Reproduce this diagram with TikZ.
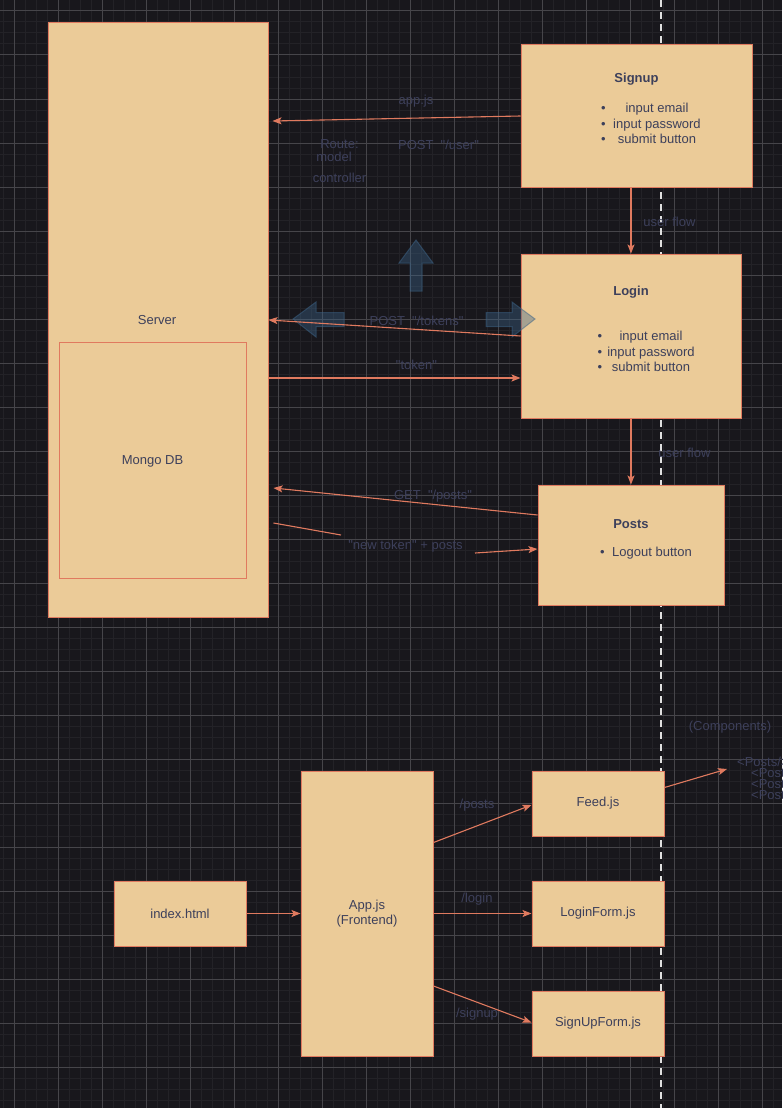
\documentclass[tikz,border=0pt]{standalone}
\usepackage{fontspec}
\setmainfont{Liberation Sans}[Ligatures=TeXOff]
\usepackage{tikz}
\usepackage{xcolor}
\usetikzlibrary{arrows.meta,calc,positioning}
\definecolor{canvas}{HTML}{18171C}
\definecolor{gridminor}{HTML}{232227}
\definecolor{gridmajor}{HTML}{46454A}
\definecolor{sand}{HTML}{EBCB98}
\definecolor{coral}{HTML}{E07A5F}
\definecolor{slate}{HTML}{3D405B}
\definecolor{ghost}{HTML}{3C6488}
\newcommand\sketchfont{\fontsize{13}{15.5}\selectfont}
\tikzset{
    sketch-box/.style = {draw=coral, fill=sand, line width=1pt, rectangle, inner sep=0pt, text=slate, font=\sketchfont},
    sketch-title/.style = {text=slate, font=\sketchfont\bfseries, inner sep=0pt, yshift=-1.5pt},
    sketch-list/.style = {text=slate, font=\sketchfont, inner sep=0pt, anchor=west, yshift=-1.5pt},
    dim-text/.style = {text=slate, font=\sketchfont, inner sep=0pt, yshift=-1.5pt},
    flow-line/.style = {draw=coral, line width=1.1pt},
    flow-arrow/.style = {flow-line, -{Stealth[length=9pt, width=7pt, inset=2pt]}},
    ghost-arrow/.style = {draw=ghost, fill=ghost, fill opacity=0.4, draw opacity=0.5, line width=1pt},
}

\begin{document}
\begin{tikzpicture}[x=1pt, y=-1pt]
\useasboundingbox (0,0) rectangle (782,1108);
\fill[canvas] (0,0) rectangle (782,1108);
\foreach \x in {3,14,...,782} \draw[gridminor, line width=1pt] (\x,0) -- (\x,1108);
\foreach \y in {0,11,...,1108} \draw[gridminor, line width=1pt] (0,\y) -- (782,\y);
\foreach \x in {14,58,...,782} \draw[gridmajor, line width=1pt] (\x,0) -- (\x,1108);
\foreach \y in {11,55,...,1108} \draw[gridmajor, line width=1pt] (0,\y) -- (782,\y);
\draw[white!88!black, line width=2pt, dash pattern=on 7pt off 5pt] (661,0) -- (661,1108);

\node[sketch-box, minimum width=220pt, minimum height=594pt] (server) at (158,320) {};
\node[dim-text] (server-label) at (157,319) {Server};
\node[sketch-box, fill=none, minimum width=187pt, minimum height=236pt] (mongo) at (152.5,460) {};
\node[dim-text] (mongo-label) at (mongo.center) {Mongo DB};

\node[sketch-box, minimum width=231pt, minimum height=142pt] (signup) at (636.5,116) {};
\node[sketch-title, below=27pt] (signup-title) at (signup.north) {Signup};
\node[sketch-list] (signup-items) at (601,123.5) {\begin{tabular}{@{}c@{\hspace{7.5pt}}c@{}}
    \textbullet & input email\\
    \textbullet & input password\\
    \textbullet & submit button
\end{tabular}};

\node[sketch-box, minimum width=220pt, minimum height=164pt] (login) at (631,336) {};
\node[sketch-title, below=31pt] (login-title) at (login.north) {Login};
\node[sketch-list] (login-items) at (597.5,351.5) {\begin{tabular}{@{}c@{\hspace{5pt}}c@{}}
    \textbullet & input email\\
    \textbullet & input password\\
    \textbullet & submit button
\end{tabular}};

\node[sketch-box, minimum width=186pt, minimum height=120pt] (posts) at (631,545) {};
\node[sketch-title, below=33pt] (posts-title) at (posts.north) {Posts};
\node[sketch-list] (posts-items) at (600,552) {\begin{tabular}{@{}c@{\hspace{7.5pt}}c@{}}
    \textbullet & Logout button
\end{tabular}};

\node[sketch-box, minimum width=132pt, minimum height=65pt] (index) at (180,913.5) {index.html};
\node[sketch-box, minimum width=132pt, minimum height=285pt, align=center] (app) at (367,913.5) {App.js\\(Frontend)};
\node[sketch-box, minimum width=132pt, minimum height=65pt] (feed) at (598,803.5) {Feed.js};
\node[sketch-box, minimum width=132pt, minimum height=65pt] (loginform) at (598,913.5) {LoginForm.js};
\node[sketch-box, minimum width=132pt, minimum height=65pt] (signupform) at (598,1023.5) {SignUpForm.js};

\filldraw[ghost-arrow] (416,240) -- (433,263) -- (422,263) -- (422,291) -- (410,291) -- (410,263) -- (399,263) -- cycle;
\filldraw[ghost-arrow] (293,319) -- (316,302) -- (316,312.5) -- (344,312.5) -- (344,326.5) -- (316,326.5) -- (316,337) -- cycle;
\filldraw[ghost-arrow] (535,319) -- (512,302) -- (512,312.5) -- (486,312.5) -- (486,326.5) -- (512,326.5) -- (512,337) -- cycle;

\node[dim-text] (lbl-appjs) at (416,100) {app.js};
\node[dim-text] (lbl-route) at (339.5,143) {Route:};
\node[dim-text] (lbl-model) at (334,155) {model};
\node[dim-text] (lbl-controller) at (339.5,176.5) {controller};
\node[dim-text] (lbl-user) at (438.5,143) {POST\ \ "/user"};
\node[dim-text] (lbl-flow1) at (669.5,220.5) {user flow};
\node[dim-text] (lbl-tokens) at (416.5,319.5) {POST\ \ "/tokens"};
\node[dim-text] (lbl-token) at (416.5,363.5) {"token"};
\node[dim-text] (lbl-flow2) at (684.5,451.5) {user flow};
\node[dim-text] (lbl-getposts) at (433,495) {GET\ \ "/posts"};
\node[dim-text] (lbl-newtoken) at (405.5,545) {"new token" + posts};
\node[dim-text] (lbl-posts) at (477,803.5) {/posts};
\node[dim-text] (lbl-login) at (477,897.5) {/login};
\node[dim-text] (lbl-signup) at (477,1012.5) {/signup};
\node[dim-text] (lbl-components) at (730,726) {(Components)};
\node[dim-text, anchor=west] (post-1) at (737,760.5) {<Posts/>};
\node[dim-text, anchor=west] (post-2) at (751,771.5) {<Post/>};
\node[dim-text, anchor=west] (post-3) at (751,782) {<Post/>};
\node[dim-text, anchor=west] (post-4) at (751,793) {<Post/>};

\draw[flow-arrow] (signup.west) -- ($(server.east)+(4,-199)$);
\draw[flow-arrow] (signup.south -| login.north) -- (login.north);
\draw[flow-arrow] (login.west) -- (server.east);
\draw[flow-arrow] ($(server.east)+(0,58)$) -- ($(login.west)+(0,42)$);
\draw[flow-arrow] (login.south) -- (posts.north);
\draw[flow-arrow] ($(posts.west)+(0,-30)$) -- ($(server.east)+(5,168)$);
\coordinate (token-gap-a) at (341,535);
\coordinate (token-gap-b) at (475,553);
\draw[flow-line] ($(server.east)+(5,203)$) -- (token-gap-a);
\draw[flow-arrow] (token-gap-b) -- ($(posts.west)+(0,4)$);
\draw[flow-arrow] (index.east) -- (app.west);
\draw[flow-arrow] ($(app.east)+(0,-71)$) -- ($(feed.west)+(0,1.5)$);
\draw[flow-arrow] (app.east) -- (loginform.west);
\draw[flow-arrow] ($(app.east)+(0,72.5)$) -- ($(signupform.west)+(0,-1)$);
\coordinate (post-list) at (727,769);
\draw[flow-arrow] ($(feed.east)+(0,-16)$) -- (post-list);
\end{tikzpicture}
\end{document}
